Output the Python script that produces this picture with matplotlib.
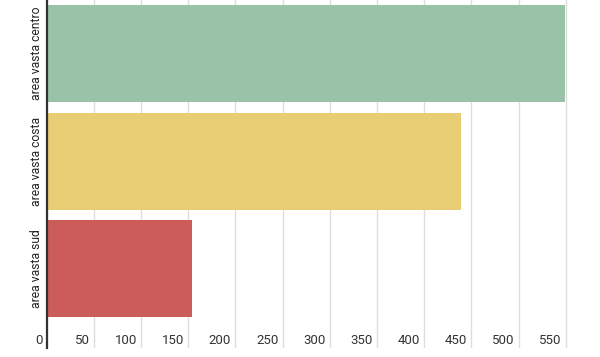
import matplotlib
matplotlib.use("Agg")
import matplotlib.pyplot as plt
import matplotlib.transforms as mtransforms

categories = ["area vasta centro", "area vasta costa", "area vasta sud"]
values = [549, 439, 154]
colors = ["#9ac2a8", "#e8cd74", "#cc5c5a"]
xticks = [0, 50, 100, 150, 200, 250, 300, 350, 400, 450, 500, 550]

plt.rcParams['font.family'] = ['Roboto', 'DejaVu Sans']

W, H = 600, 357
fig = plt.figure(figsize=(W/100, H/100), dpi=100)
left_px, bottom_px, top_px = 46.5, 9, 0
ax = fig.add_axes([left_px/W, bottom_px/H, 1 - left_px/W, 1 - (bottom_px + top_px)/H])

band = 107.5
ax_h = H - bottom_px - top_px
ymax = ax_h/band - 0.5
ax.barh(range(len(categories)), values, height=0.9, color=colors, zorder=2)
ax.set_ylim(ymax, -0.5)
ax.set_xlim(0, (W - left_px)/0.944)

ax.set_xticks(xticks)
ax.grid(axis='x', color='#dddddd', linewidth=1, zorder=0)
ax.tick_params(axis='x', length=0, labelbottom=False)
ax.set_yticks([])
for s in ['top', 'right', 'bottom']:
    ax.spines[s].set_visible(False)
ax.spines['left'].set_color('#333333')
ax.spines['left'].set_linewidth(1.6)
ax.spines['left'].set_zorder(3)

off = mtransforms.ScaledTranslation(-4/100, 0, fig.dpi_scale_trans)
tr = mtransforms.blended_transform_factory(ax.transData, ax.transAxes) + off
for t in xticks:
    ax.text(t, 7/ax_h, str(t), transform=tr, ha='right', va='center',
            fontsize=9.5, color='#333333')

offy = mtransforms.ScaledTranslation(-10/100, 0, fig.dpi_scale_trans)
try_tr = mtransforms.blended_transform_factory(ax.transAxes, ax.transData) + offy
for i, c in enumerate(categories):
    ax.text(0, i, c, transform=try_tr, rotation=90, ha='center', va='center',
            fontsize=8.7, color='#222222')

fig.savefig("out.png", dpi=100)
